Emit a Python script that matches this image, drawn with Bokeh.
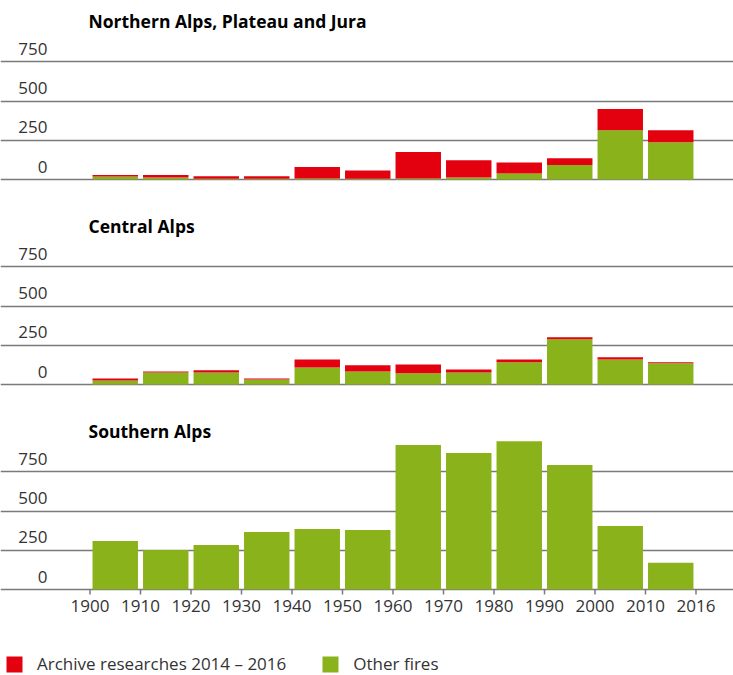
from bokeh.plotting import figure
from bokeh.models import Range1d, ColumnDataSource, Label, FixedTicker, Legend, LegendItem, Grid
from bokeh.layouts import column
from bokeh.embed import file_html
from bokeh.resources import INLINE

# ---------------- data ----------------
periods = ["1900", "1910", "1920", "1930", "1940", "1950",
           "1960", "1970", "1980", "1990", "2000", "2010"]
tick_labels = ["1900", "1910", "1920", "1930", "1940", "1950", "1960",
               "1970", "1980", "1990", "2000", "2010", "2016"]
y_ticks = [0, 250, 500, 750]

titles = ["Northern Alps, Plateau and Jura", "Central Alps", "Southern Alps"]
series_names = ["Archive researches 2014 – 2016", "Other fires"]

north_other = [19, 13, 5, 4, 6, 4, 6, 13, 38, 92, 314, 237]
north_archive = [9, 15, 16, 17, 73, 54, 169, 109, 71, 43, 135, 77]
central_other = [26, 77, 77, 32, 109, 83, 71, 77, 141, 288, 160, 135]
central_archive = [12, 6, 13, 6, 51, 39, 57, 19, 19, 13, 13, 6]
south_other = [309, 252, 284, 367, 386, 379, 920, 869, 945, 793, 405, 170]
south_archive = [0, 0, 0, 0, 0, 0, 0, 0, 0, 0, 0, 0]

# ---------------- style ----------------
GREEN = "#8AB31B"
RED = "#E3000F"
GRID = "#7a7a7a"
TEXT = "#333333"
FONT = "Open Sans"
W = 733
K = 0.157            # px per unit
TITLE_ABOVE = 159    # title centre above baseline (px)
LABEL_RAISE = 13     # tick label centre above its grid line (px)
X0, DX = 89.5, 50.5  # px position of first tick, px per period


def xp(px):
    return (px - X0) / DX


def make_panel(title, other, archive, height, base, last=False):
    yr = Range1d(-(height - base) / K, base / K)
    xr = Range1d(xp(0), xp(W))
    p = figure(width=W, height=height, x_range=xr, y_range=yr,
               x_axis_type=None, y_axis_type=None,
               toolbar_location=None, output_backend="svg",
               min_border=0, outline_line_color=None)
    p.add_layout(Grid(dimension=1, ticker=FixedTicker(ticks=y_ticks),
                      grid_line_color=GRID, grid_line_width=1.5))
    src = ColumnDataSource(dict(x=[i + 0.5 for i in range(len(periods))],
                                other=other, archive=archive))
    rs = p.vbar_stack(["other", "archive"], x="x", width=0.9, source=src,
                      fill_color=[GREEN, RED], line_color=None)
    for v in y_ticks:
        p.add_layout(Label(x=xp(47), y=v + LABEL_RAISE / K, text=str(v),
                           text_align="right", text_baseline="middle",
                           text_font=FONT, text_font_size="17px",
                           text_color=TEXT))
    p.add_layout(Label(x=xp(88), y=TITLE_ABOVE / K, text=title,
                       text_baseline="middle", text_font=FONT,
                       text_font_size="17.5px", text_font_style="bold",
                       text_color="#000000"))
    if last:
        ticks = list(range(len(tick_labels)))
        p.segment(x0=ticks, y0=[0] * len(ticks), x1=ticks,
                  y1=[-5 / K] * len(ticks), line_color=GRID, line_width=1.5)
        for i, t in enumerate(tick_labels):
            p.add_layout(Label(x=i, y=-16 / K, text=t, text_align="center",
                               text_baseline="middle",
                               text_font=FONT, text_font_size="17px",
                               text_color=TEXT))
        legend = Legend(items=[LegendItem(label=series_names[0], renderers=[rs[1]]),
                               LegendItem(label=series_names[1], renderers=[rs[0]])],
                        orientation="horizontal", location=(4, 0),
                        glyph_width=20, glyph_height=20, label_standoff=13,
                        spacing=34, padding=0, margin=0,
                        border_line_color=None, background_fill_alpha=0,
                        label_text_font=FONT, label_text_font_size="17px",
                        label_text_color=TEXT)
        p.add_layout(legend)
    return p


p1 = make_panel(titles[0], north_other, north_archive, 213, 179)
p2 = make_panel(titles[1], central_other, central_archive, 205, 171)
p3 = make_panel(titles[2], south_other, south_archive, 257, 171, last=True)

layout = column(p1, p2, p3, spacing=0)
open("out.html", "w").write(file_html(layout, INLINE))
